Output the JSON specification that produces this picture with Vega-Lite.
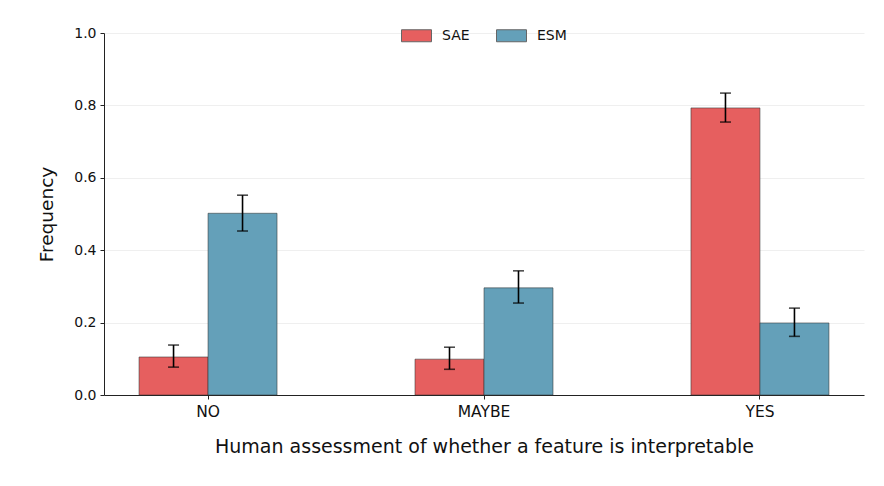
{
  "$schema": "https://vega.github.io/schema/vega-lite/v6.json",
  "width": 760,
  "height": 362,
  "autosize": "none",
  "padding": {"left": 104, "top": 33, "right": 20, "bottom": 91},
  "config": {
    "font": "DejaVu Sans",
    "view": {"stroke": null},
    "axis": {"labelColor": "#111", "titleColor": "#111", "domainColor": "#222", "tickColor": "#222", "titleFontWeight": "normal"}
  },
  "data": {
    "values": [
      {"cat": "NO", "model": "SAE", "value": 0.105, "lo": 0.077, "hi": 0.138},
      {"cat": "NO", "model": "ESM", "value": 0.502, "lo": 0.453, "hi": 0.552},
      {"cat": "MAYBE", "model": "SAE", "value": 0.099, "lo": 0.071, "hi": 0.132},
      {"cat": "MAYBE", "model": "ESM", "value": 0.296, "lo": 0.254, "hi": 0.343},
      {"cat": "YES", "model": "SAE", "value": 0.793, "lo": 0.754, "hi": 0.834},
      {"cat": "YES", "model": "ESM", "value": 0.199, "lo": 0.162, "hi": 0.240}
    ]
  },
  "encoding": {
    "x": {
      "field": "cat", "type": "nominal", "sort": ["NO", "MAYBE", "YES"],
      "scale": {"paddingInner": 0.5, "paddingOuter": 0.127},
      "axis": {"labelAngle": 0, "labelFontSize": 15.5, "labelPadding": 5, "tickSize": 4, "title": "Human assessment of whether a feature is interpretable", "titleFontSize": 19, "titlePadding": 18, "grid": false}
    },
    "xOffset": {"field": "model", "type": "nominal", "sort": ["SAE", "ESM"], "scale": {"paddingInner": 0, "paddingOuter": 0}}
  },
  "layer": [
    {
      "mark": {"type": "bar", "stroke": "#333333", "strokeOpacity": 0.55, "strokeWidth": 1},
      "encoding": {
        "y": {
          "field": "value", "type": "quantitative",
          "scale": {"domain": [0, 1], "nice": false},
          "axis": {"values": [0, 0.2, 0.4, 0.6, 0.8, 1.0], "format": ".1f", "labelFontSize": 14, "tickSize": 4, "labelPadding": 4, "grid": true, "gridColor": "#efefef", "gridWidth": 1, "title": "Frequency", "titleFontSize": 18.5, "titlePadding": 17}
        },
        "color": {
          "field": "model", "type": "nominal", "sort": ["SAE", "ESM"],
          "scale": {"domain": ["SAE", "ESM"], "range": ["#e65f5f", "#64a0b9"]},
          "legend": {
            "title": null, "orient": "none", "direction": "horizontal",
            "legendX": 297, "legendY": -13, "padding": 0,
            "symbolType": "M-1,-0.4H1V0.4H-1Z", "symbolSize": 900,
            "symbolStrokeColor": "#666", "symbolStrokeWidth": 1,
            "labelFontSize": 14, "labelOffset": 10, "columnPadding": 24, "labelColor": "#111"
          }
        }
      }
    },
    {
      "mark": {"type": "rule", "color": "black", "strokeWidth": 1.6},
      "encoding": {"y": {"field": "lo", "type": "quantitative"}, "y2": {"field": "hi"}}
    },
    {
      "mark": {"type": "tick", "color": "black", "thickness": 1.6, "size": 11},
      "encoding": {"y": {"field": "lo", "type": "quantitative"}}
    },
    {
      "mark": {"type": "tick", "color": "black", "thickness": 1.6, "size": 11},
      "encoding": {"y": {"field": "hi", "type": "quantitative"}}
    }
  ]
}
